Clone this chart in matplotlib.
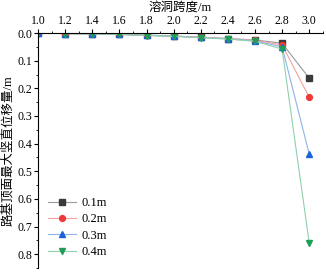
import matplotlib
matplotlib.use("Agg")
import matplotlib.pyplot as plt
import matplotlib.ticker as ticker

plt.rcParams['font.family'] = ['Liberation Serif', 'Noto Sans CJK SC']
plt.rcParams['axes.unicode_minus'] = False

# 溶洞跨度
span = [1.0, 1.2, 1.4, 1.6, 1.8, 2.0, 2.2, 2.4, 2.6, 2.8, 3.0]
# 路基顶面最大竖直位移量
d_01 = [0.000, 0.002, 0.003, 0.005, 0.008, 0.011, 0.015, 0.020, 0.025, 0.037, 0.163]
d_02 = [0.000, 0.002, 0.003, 0.005, 0.008, 0.011, 0.015, 0.020, 0.026, 0.043, 0.232]
d_03 = [0.000, 0.002, 0.003, 0.005, 0.008, 0.012, 0.016, 0.021, 0.028, 0.050, 0.437]
d_04 = [0.000, 0.002, 0.003, 0.005, 0.009, 0.012, 0.017, 0.022, 0.030, 0.058, 0.758]
labels = ['0.1m', '0.2m', '0.3m', '0.4m']

series = [
    (d_01, 's', '#3a3a3a', '#9a9a9a'),
    (d_02, 'o', '#f03a3a', '#f5a0a0'),
    (d_03, '^', '#1a62d8', '#8fb2ea'),
    (d_04, 'v', '#1f9e57', '#8fd0ab'),
]

fig = plt.figure(figsize=(3.26, 2.73), dpi=100)
ax = fig.add_axes([0.117, 0.018, 0.873, 0.861])

for (vals, mk, mc, lc), lab in zip(series, labels):
    ax.plot(span, vals, color=lc, linewidth=0.8, marker=mk, markersize=4.2,
            markerfacecolor=mc, markeredgecolor=mc, label=lab)

ax.set_xlim(1.0, 3.1)
ax.set_ylim(0.85, 0.0)
ax.xaxis.tick_top()
ax.xaxis.set_label_position('top')
ax.spines['right'].set_visible(False)
ax.spines['bottom'].set_visible(False)
ax.set_xticks([1.0, 1.2, 1.4, 1.6, 1.8, 2.0, 2.2, 2.4, 2.6, 2.8, 3.0])
ax.xaxis.set_minor_locator(ticker.MultipleLocator(0.1))
ax.yaxis.set_major_locator(ticker.MultipleLocator(0.1))
ax.yaxis.set_minor_locator(ticker.MultipleLocator(0.05))
ax.xaxis.set_major_formatter(ticker.FormatStrFormatter('%.1f'))
ax.yaxis.set_major_formatter(ticker.FormatStrFormatter('%.1f'))
ax.tick_params(axis='both', which='major', labelsize=8.5, length=3, width=0.8, pad=1.5)
ax.tick_params(axis='both', which='minor', length=1.8, width=0.6)

ax.set_xlabel('溶洞跨度/m', fontsize=9, labelpad=3)
ax.set_ylabel('路基顶面最大竖直位移量/m', fontsize=9, labelpad=2)

ax.legend(loc='lower left', frameon=False, fontsize=9, handlelength=2.2,
          handletextpad=0.5, labelspacing=0.35, borderaxespad=0.4)

fig.savefig('out.png', dpi=100)
